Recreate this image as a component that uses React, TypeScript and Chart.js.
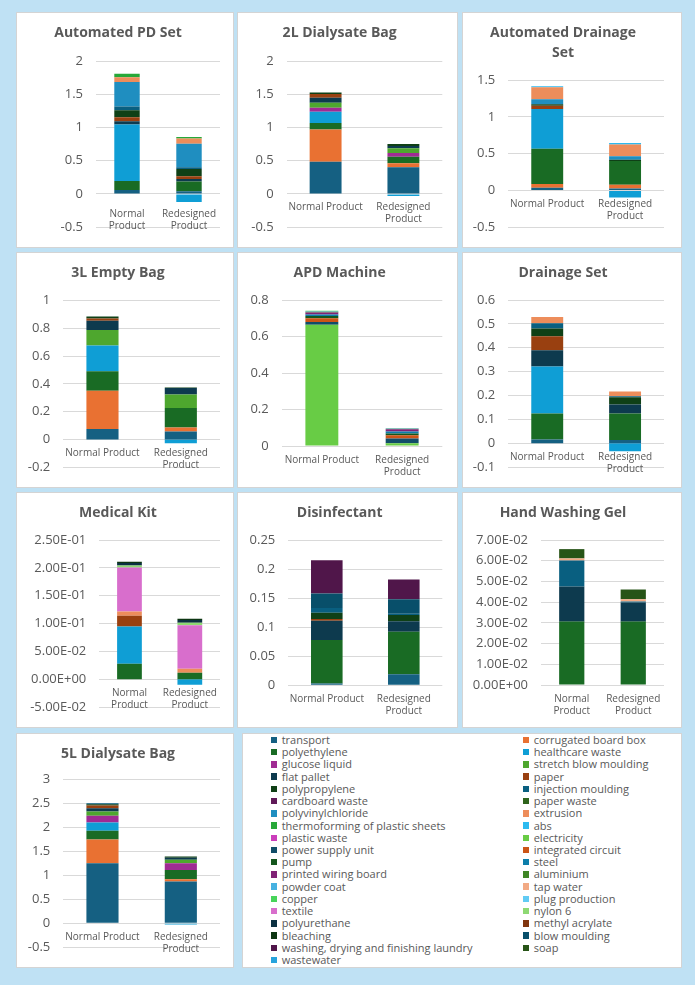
import React, { useEffect, useRef } from "react";
import { Chart, registerables } from "chart.js";

Chart.register(...registerables);

type Entry = [string, number, number];

const FONT = "'Open Sans', 'Noto Sans', sans-serif";
const TEXT = "#595959";
const GRID = "#d9d9d9";

// Impact contributors, in stacking / legend order
const seriesNames = [
  "transport", "corrugated board box", "polyethylene", "healthcare waste",
  "glucose liquid", "stretch blow moulding", "flat pallet", "paper",
  "polypropylene", "injection moulding", "cardboard waste", "paper waste",
  "polyvinylchloride", "extrusion", "thermoforming of plastic sheets", "abs",
  "plastic waste", "electricity", "power supply unit", "integrated circuit",
  "pump", "steel", "printed wiring board", "aluminium", "powder coat",
  "tap water", "copper", "plug production", "textile", "nylon 6",
  "polyurethane", "methyl acrylate", "bleaching", "blow moulding",
  "washing, drying and finishing laundry", "soap", "wastewater",
];

// Values per product: [contributor, normal product, redesigned product]
const automatedPdSet: Entry[] = [
  ["transport", 0.058, 0.04],
  ["polyethylene", 0.136, 0.146],
  ["healthcare waste", 0.85, -0.12],
  ["flat pallet", 0.05, 0.04],
  ["paper", 0.06, 0.04],
  ["polypropylene", 0.107, 0.11],
  ["injection moulding", 0.053, 0.025],
  ["polyvinylchloride", 0.37, 0.354],
  ["extrusion", 0.073, 0.078],
  ["thermoforming of plastic sheets", 0.05, 0.025],
];

const dialysateBag2L: Entry[] = [
  ["transport", 0.485, 0.4],
  ["corrugated board box", 0.485, 0.063],
  ["polyethylene", 0.097, 0.097],
  ["healthcare waste", 0.17, -0.03],
  ["glucose liquid", 0.058, 0.058],
  ["stretch blow moulding", 0.078, 0.068],
  ["flat pallet", 0.073, 0.035],
  ["paper", 0.058, 0],
  ["polypropylene", 0.024, 0.03],
];

const automatedDrainageSet: Entry[] = [
  ["transport", 0.035, 0.026],
  ["corrugated board box", 0.052, 0.052],
  ["polyethylene", 0.48, 0.32],
  ["healthcare waste", 0.54, -0.096],
  ["paper", 0.044, 0],
  ["polypropylene", 0.02, 0.017],
  ["polyvinylchloride", 0.066, 0.048],
  ["extrusion", 0.166, 0.16],
  ["abs", 0.013, 0.022],
];

const emptyBag3L: Entry[] = [
  ["transport", 0.075, 0.058],
  ["corrugated board box", 0.276, 0.028],
  ["polyethylene", 0.14, 0.14],
  ["healthcare waste", 0.187, -0.028],
  ["stretch blow moulding", 0.11, 0.098],
  ["flat pallet", 0.068, 0.047],
  ["paper", 0.016, 0],
  ["polypropylene", 0.014, 0.004],
];

const apdMachine: Entry[] = [
  ["electricity", 0.665, 0.015],
  ["power supply unit", 0.015, 0.026],
  ["integrated circuit", 0.02, 0.018],
  ["pump", 0.012, 0.01],
  ["steel", 0.008, 0.01],
  ["printed wiring board", 0.011, 0.013],
  ["aluminium", 0.004, 0.003],
  ["powder coat", 0.003, 0.002],
  ["copper", 0.003, 0],
];

const drainageSet: Entry[] = [
  ["transport", 0.016, 0.014],
  ["polyethylene", 0.109, 0.111],
  ["healthcare waste", 0.197, -0.033],
  ["flat pallet", 0.068, 0.038],
  ["paper", 0.058, 0],
  ["polypropylene", 0.033, 0.03],
  ["injection moulding", 0.022, 0.004],
  ["extrusion", 0.026, 0.02],
];

const medicalKit: Entry[] = [
  ["polyethylene", 0.028, 0.012],
  ["healthcare waste", 0.067, -0.0099],
  ["paper", 0.019, 0],
  ["extrusion", 0.0076, 0.007],
  ["textile", 0.079, 0.078],
  ["nylon 6", 0.0035, 0.0047],
  ["polyurethane", 0.0047, 0.0047],
  ["bleaching", 0.002, 0.0023],
];

const disinfectant: Entry[] = [
  ["transport", 0.003, 0.019],
  ["polyethylene", 0.075, 0.073],
  ["flat pallet", 0.033, 0.018],
  ["paper", 0.003, 0],
  ["polypropylene", 0.011, 0.011],
  ["injection moulding", 0.008, 0.002],
  ["blow moulding", 0.025, 0.025],
  ["washing, drying and finishing laundry", 0.057, 0.034],
];

const handWashingGel: Entry[] = [
  ["polyethylene", 0.0306, 0.0306],
  ["flat pallet", 0.0169, 0.0092],
  ["injection moulding", 0.0126, 0.0005],
  ["tap water", 0.001, 0.0011],
  ["soap", 0.0045, 0.0047],
];

const dialysateBag5L: Entry[] = [
  ["transport", 1.247, 0.867],
  ["corrugated board box", 0.495, 0.047],
  ["polyethylene", 0.183, 0.19],
  ["healthcare waste", 0.17, -0.027],
  ["glucose liquid", 0.142, 0.142],
  ["stretch blow moulding", 0.088, 0.075],
  ["flat pallet", 0.068, 0.04],
  ["paper", 0.054, 0],
  ["polypropylene", 0.027, 0.028],
  ["injection moulding", 0.02, 0],
];

const normalOneLine = "Normal Product";
const normalTwoLines = ["Normal", "Product"];
const redesignedLabel = ["Redesigned", "Product"];

interface ChartSpec {
  title: string[];
  data: Entry[];
  min: number;
  max: number;
  step: number;
  sci: boolean;
  wrapNormal: boolean;
}

const charts: ChartSpec[] = [
  { title: ["Automated PD Set"], data: automatedPdSet, min: -0.5, max: 2, step: 0.5, sci: false, wrapNormal: true },
  { title: ["2L Dialysate Bag"], data: dialysateBag2L, min: -0.5, max: 2, step: 0.5, sci: false, wrapNormal: false },
  { title: ["Automated Drainage", "Set"], data: automatedDrainageSet, min: -0.5, max: 1.5, step: 0.5, sci: false, wrapNormal: false },
  { title: ["3L Empty Bag"], data: emptyBag3L, min: -0.2, max: 1, step: 0.2, sci: false, wrapNormal: false },
  { title: ["APD Machine"], data: apdMachine, min: 0, max: 0.8, step: 0.1, sci: false, wrapNormal: false },
  { title: ["Drainage Set"], data: drainageSet, min: -0.1, max: 0.6, step: 0.1, sci: false, wrapNormal: false },
  { title: ["Medical Kit"], data: medicalKit, min: -0.05, max: 0.25, step: 0.05, sci: true, wrapNormal: true },
  { title: ["Disinfectant"], data: disinfectant, min: 0, max: 0.25, step: 0.05, sci: false, wrapNormal: false },
  { title: ["Hand Washing Gel"], data: handWashingGel, min: 0, max: 0.07, step: 0.01, sci: true, wrapNormal: true },
  { title: ["5L Dialysate Bag"], data: dialysateBag5L, min: -0.5, max: 3, step: 0.5, sci: false, wrapNormal: false },
];

// Panel boxes and plot insets (px)
interface Frame { left: number; top: number; w: number; h: number; yw: number; padR: number; plotTop: number; padB: number; labelPad: number; }
const frames: Frame[] = [
  { left: 16, top: 12, w: 218, h: 236, yw: 80, padR: 14, plotTop: 49, padB: 15.3, labelPad: 14 },
  { left: 237, top: 12, w: 221, h: 236, yw: 49.7, padR: 15.7, plotTop: 49, padB: 15.3, labelPad: 7.5 },
  { left: 462, top: 12, w: 220, h: 236, yw: 46.3, padR: 18, plotTop: 68, padB: 15.3, labelPad: 7.5 },
  { left: 16, top: 252, w: 218, h: 236, yw: 47.3, padR: 14, plotTop: 48.7, padB: 16.3, labelPad: 7.5 },
  { left: 237, top: 252, w: 221, h: 236, yw: 44.7, padR: 15.7, plotTop: 48, padB: 42, labelPad: 8 },
  { left: 462, top: 252, w: 220, h: 236, yw: 46.3, padR: 18, plotTop: 48, padB: 16.3, labelPad: 7.5 },
  { left: 16, top: 492, w: 218, h: 236, yw: 83.3, padR: 14, plotTop: 48, padB: 16.3, labelPad: 7.5 },
  { left: 237, top: 492, w: 221, h: 236, yw: 51.3, padR: 15.7, plotTop: 48, padB: 42.7, labelPad: 8 },
  { left: 462, top: 492, w: 220, h: 236, yw: 79, padR: 18, plotTop: 48, padB: 43, labelPad: 8.5 },
  { left: 16, top: 733, w: 218, h: 235, yw: 47.3, padR: 14, plotTop: 46, padB: 17, labelPad: 7.5 },
];

// Office theme accents; later series reuse them with luminance shifts
const accents = ["#156082", "#E97132", "#196B24", "#0F9ED5", "#A02B93", "#4EA72E"];
const lumVariants: [number, number][] = [[1, 0], [0.6, 0], [0.8, 0.2], [0.8, 0], [0.6, 0.4], [0.5, 0], [0.7, 0.3]];

function shade(hex: string, mod: number, off: number): string {
  const r = parseInt(hex.slice(1, 3), 16) / 255;
  const g = parseInt(hex.slice(3, 5), 16) / 255;
  const b = parseInt(hex.slice(5, 7), 16) / 255;
  const max = Math.max(r, g, b);
  const min = Math.min(r, g, b);
  const l = (max + min) / 2;
  const d = max - min;
  let h = 0;
  let s = 0;
  if (d !== 0) {
    s = l > 0.5 ? d / (2 - max - min) : d / (max + min);
    if (max === r) h = (g - b) / d + (g < b ? 6 : 0);
    else if (max === g) h = (b - r) / d + 2;
    else h = (r - g) / d + 4;
    h /= 6;
  }
  const l2 = Math.min(1, l * mod + off);
  const q = l2 < 0.5 ? l2 * (1 + s) : l2 + s - l2 * s;
  const p = 2 * l2 - q;
  const f = (t: number) => {
    if (t < 0) t += 1;
    if (t > 1) t -= 1;
    if (t < 1 / 6) return p + (q - p) * 6 * t;
    if (t < 1 / 2) return q;
    if (t < 2 / 3) return p + (q - p) * (2 / 3 - t) * 6;
    return p;
  };
  const to = (v: number) => Math.round(v * 255).toString(16).padStart(2, "0");
  return "#" + to(f(h + 1 / 3)) + to(f(h)) + to(f(h - 1 / 3));
}

const seriesColors = seriesNames.map((_, i) => {
  const [mod, off] = lumVariants[Math.floor(i / 6)];
  return shade(accents[i % 6], mod, off);
});

function sciLabel(v: number): string {
  if (Math.abs(v) < 1e-12) return "0.00E+00";
  const [m, e] = v.toExponential(2).split("e");
  const en = parseInt(e, 10);
  return `${m}E${en < 0 ? "-" : "+"}${String(Math.abs(en)).padStart(2, "0")}`;
}

function plainLabel(v: number): string {
  return String(parseFloat(v.toFixed(6)));
}

function MiniChart({ spec, frame }: { spec: ChartSpec; frame: Frame }) {
  const ref = useRef<HTMLCanvasElement>(null);

  useEffect(() => {
    if (!ref.current) return;
    const datasets = seriesNames
      .map((name, i) => ({ name, i, entry: spec.data.find((d) => d[0] === name) }))
      .filter((x) => x.entry)
      .map(({ name, i, entry }) => ({
        label: name,
        data: [entry![1], entry![2]],
        backgroundColor: seriesColors[i],
        borderWidth: 0,
        barPercentage: 0.41,
        categoryPercentage: 1,
        stack: "total",
      }));

    const titleLine = 14 * 1.4;
    const titleTop = 11.2;
    const titleBottom = frame.plotTop - titleTop - titleLine * spec.title.length;

    const chart = new Chart(ref.current, {
      type: "bar",
      data: {
        labels: [spec.wrapNormal ? normalTwoLines : normalOneLine, redesignedLabel],
        datasets,
      },
      options: {
        animation: false,
        responsive: false,
        maintainAspectRatio: false,
        layout: { padding: { left: 0, right: frame.padR, top: 0, bottom: frame.padB } },
        plugins: {
          legend: { display: false },
          tooltip: { enabled: false },
          title: {
            display: true,
            text: spec.title,
            color: TEXT,
            font: { family: FONT, size: 14, weight: "bold", lineHeight: 1.4 },
            padding: { top: titleTop, bottom: titleBottom },
          },
        },
        scales: {
          x: {
            stacked: true,
            position: { y: 0 },
            grid: { display: false, drawTicks: false },
            border: { display: false },
            ticks: {
              color: TEXT,
              font: { family: FONT, size: 10, lineHeight: 1.2 },
              padding: frame.labelPad,
              maxRotation: 0,
              autoSkip: false,
            },
            afterFit: (scale: any) => {
              scale.height = 0;
            },
          },
          y: {
            stacked: true,
            min: spec.min,
            max: spec.max,
            grid: { color: GRID, lineWidth: 1, drawTicks: false },
            border: { display: false },
            ticks: {
              stepSize: spec.step,
              color: TEXT,
              font: { family: FONT, size: 13 },
              padding: 13,
              callback: (v: any) => (spec.sci ? sciLabel(Number(v)) : plainLabel(Number(v))),
            },
            afterFit: (scale: any) => {
              scale.width = frame.yw;
            },
          },
        },
      } as any,
    });
    return () => chart.destroy();
  }, [spec, frame]);

  return (
    <div
      style={{
        position: "absolute",
        left: frame.left,
        top: frame.top,
        width: frame.w,
        height: frame.h,
        background: "#ffffff",
        boxShadow: "inset 0 0 0 1px #d4d4d4",
      }}
    >
      <canvas ref={ref} width={frame.w} height={frame.h} style={{ display: "block" }} />
    </div>
  );
}

const legendBox = { left: 242, top: 733, w: 440, h: 235 };

function Legend() {
  const rows = Math.ceil(seriesNames.length / 2);
  return (
    <div
      style={{
        position: "absolute",
        left: legendBox.left,
        top: legendBox.top,
        width: legendBox.w,
        height: legendBox.h,
        background: "#ffffff",
        boxShadow: "inset 0 0 0 1px #d4d4d4",
        fontFamily: FONT,
        fontSize: 11,
        color: TEXT,
      }}
    >
      {seriesNames.map((name, i) => {
        const col = i % 2;
        const row = Math.floor(i / 2);
        return (
          <div
            key={name}
            style={{
              position: "absolute",
              left: col === 0 ? 28.7 : 280.7,
              top: 7 + row * ((227 - 7) / (rows - 1)) - 6,
              height: 12,
              display: "flex",
              alignItems: "center",
              whiteSpace: "nowrap",
              lineHeight: "12px",
            }}
          >
            <span
              style={{
                display: "inline-block",
                width: 6.5,
                height: 6.5,
                background: seriesColors[i],
                marginRight: 4.5,
              }}
            />
            <span>{name}</span>
          </div>
        );
      })}
    </div>
  );
}

export default function App() {
  return (
    <div
      style={{
        position: "absolute",
        left: 0,
        top: 0,
        width: 695,
        height: 985,
        background: "#bfe1f4",
        overflow: "hidden",
      }}
    >
      {charts.map((spec, i) => (
        <MiniChart key={spec.title.join(" ")} spec={spec} frame={frames[i]} />
      ))}
      <Legend />
    </div>
  );
}
